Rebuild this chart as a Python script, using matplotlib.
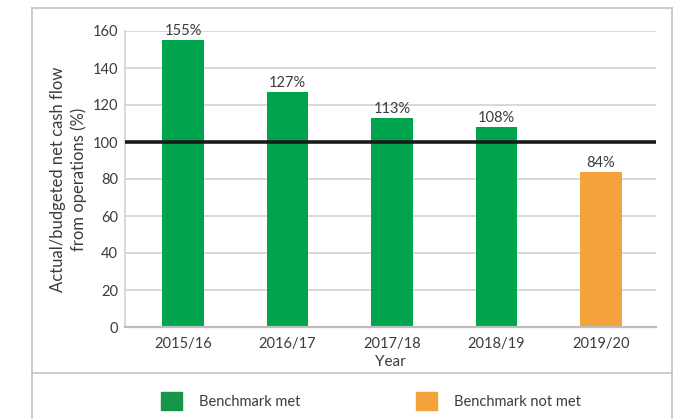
import matplotlib.pyplot as plt
from matplotlib.patches import Patch
from matplotlib.lines import Line2D

plt.rcParams['font.family'] = ['Lato', 'DejaVu Sans']

years = ["2015/16", "2016/17", "2017/18", "2018/19", "2019/20"]
ratio = [155, 127, 113, 108, 84]
met = [True, True, True, True, False]
benchmark = 100

green = "#00a34e"
green_key = "#17964a"
orange = "#f4a23c"
text_col = "#3c3c3c"
grid_col = "#d2d2d2"
frame_col = "#c4c4c4"

W, H = 675, 419
fig = plt.figure(figsize=(W / 100, H / 100), dpi=100)

# outer box and the line above the key
def fx(px):
    return px / W

def fy(py):
    return 1 - py / H

for xs, ys in [((32, 32), (8, 419)), ((32, 672), (8, 8)), ((672, 672), (8, 419)),
               ((32, 672), (373, 373))]:
    fig.add_artist(Line2D([fx(x) for x in xs], [fy(y) for y in ys],
                          color=frame_col, lw=1.2))

ax = fig.add_axes([fx(125), fy(327), fx(656) - fx(125), fy(31) - fy(327)])

x = list(range(len(years)))
colors = [green if m else orange for m in met]
bars = ax.bar(x, ratio, width=0.40, color=colors, zorder=3)
for b, v in zip(bars, ratio):
    ax.annotate(f"{v}%", (b.get_x() + b.get_width() / 2, v), xytext=(0, 1.5),
                textcoords="offset points", ha="center", va="bottom",
                fontsize=10.5, color=text_col, zorder=4)

ax.axhline(benchmark, color="#1a1a1a", lw=2.6, zorder=5)

ax.set_xlim(-0.555, 4.526)
ax.set_ylim(0, 160)
ax.set_yticks(range(0, 161, 20))
ax.set_xticks(x)
ax.set_xticklabels(years)
ax.yaxis.grid(True, color=grid_col, lw=1.2, zorder=0)
ax.tick_params(axis="both", length=0, labelsize=10.5, labelcolor=text_col)
ax.tick_params(axis="x", pad=7)
ax.tick_params(axis="y", pad=5)
for s in ["top", "right"]:
    ax.spines[s].set_visible(False)
ax.spines["left"].set_color(grid_col)
ax.spines["left"].set_linewidth(1.2)
ax.spines["bottom"].set_color("#bdbdbd")
ax.spines["bottom"].set_linewidth(1.6)
ax.spines["bottom"].set_zorder(6)

ax.set_xlabel("Year", fontsize=11, color=text_col, labelpad=3)
ax.set_ylabel("Actual/budgeted net cash flow\nfrom operations (%)",
              fontsize=12, color=text_col, labelpad=4, linespacing=1.3)

handles = [Patch(color=green_key, label="Benchmark met"),
           Patch(color=orange, label="Benchmark not met")]
fig.legend(handles=handles, loc="center", bbox_to_anchor=(fx(371), fy(401)),
           ncol=2, frameon=False, fontsize=10.5, labelcolor=text_col,
           handlelength=1.45, handleheight=1.45, handletextpad=1.2,
           columnspacing=7.9)

fig.savefig("out.png", dpi=100)
